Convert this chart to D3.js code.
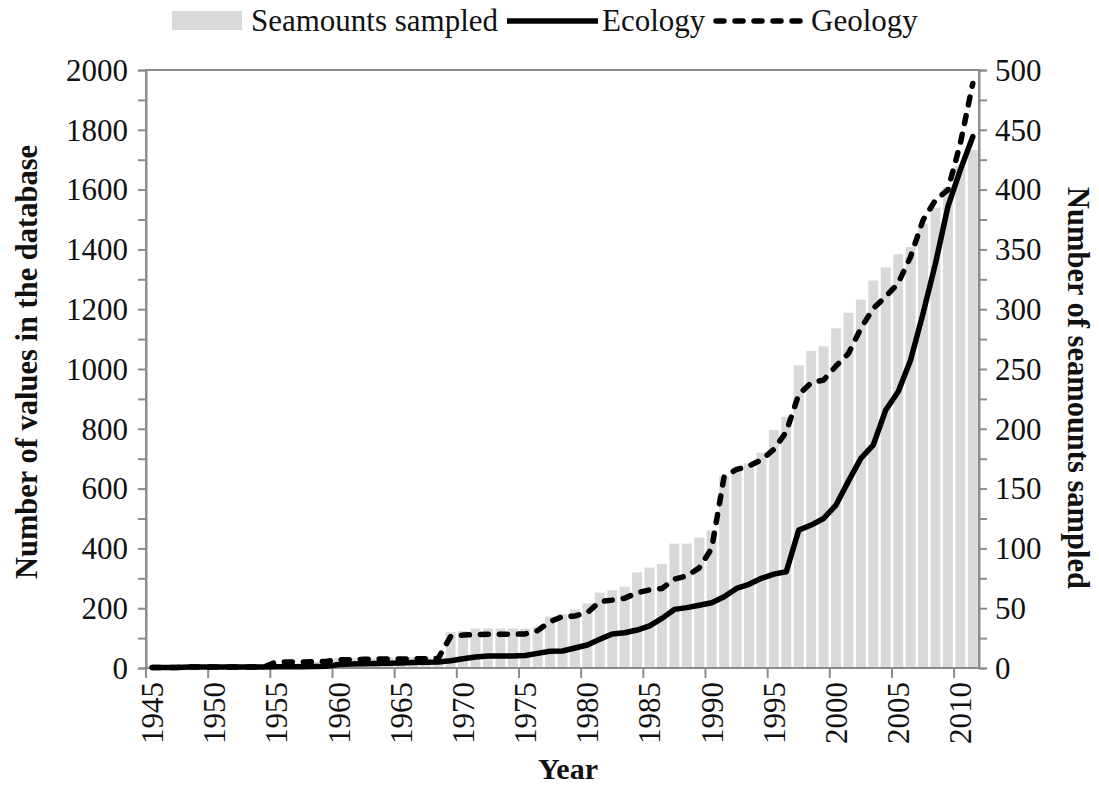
<!DOCTYPE html>
<html>
<head>
<meta charset="utf-8">
<script src="https://cdn.jsdelivr.net/npm/d3@7"></script>
<style>
  html, body { margin: 0; padding: 0; background: #fff; }
  svg { display: block; }
  text { font-family: "Liberation Serif", "Times New Roman", serif; fill: #111; }
</style>
</head>
<body>
<svg id="chart" width="1099" height="788"></svg>
<script>
const years = [1945,1946,1947,1948,1949,1950,1951,1952,1953,1954,
  1955,1956,1957,1958,1959,1960,1961,1962,1963,1964,
  1965,1966,1967,1968,1969,1970,1971,1972,1973,1974,
  1975,1976,1977,1978,1979,1980,1981,1982,1983,1984,
  1985,1986,1987,1988,1989,1990,1991,1992,1993,1994,
  1995,1996,1997,1998,1999,2000,2001,2002,2003,2004,
  2005,2006,2007,2008,2009,2010,2011];

const seamountsSampled = [1,1,1,1,1,1,1,1,1,2,
  3,4,4,5,6,8,8,8,8,9,
  9,9,9,10,30,31,33,33,33,33,
  33,34,43,45,49,54,63,65,68,80,
  84,87,104,104,109,115,160,167,171,180,
  199,210,253,265,269,284,297,308,324,335,
  346,352,371,385,402,420,433];

const ecology = [2,2,2,3,3,3,3,3,3,3,
  4,4,4,5,6,12,13,14,15,16,
  17,18,19,20,24,31,37,40,40,40,
  42,49,56,57,67,77,96,114,118,127,
  141,166,196,202,210,218,238,266,280,300,
  314,322,461,478,500,545,625,701,746,863,
  924,1030,1186,1353,1543,1666,1777];

const geology = [2,2,2,3,3,3,3,3,3,4,
  20,20,20,21,22,28,28,29,30,30,
  30,31,31,32,105,110,112,113,113,113,
  114,125,155,172,174,185,222,227,233,252,
  261,266,297,308,335,400,640,664,676,696,
  731,790,915,954,963,1010,1052,1136,1203,1242,
  1287,1376,1498,1565,1599,1755,1955];

const leftTicks = [0,200,400,600,800,1000,1200,1400,1600,1800,2000];
const rightTicks = [0,50,100,150,200,250,300,350,400,450,500];
const yearLabels = [1945,1950,1955,1960,1965,1970,1975,1980,1985,1990,1995,2000,2005,2010];

const legendLabels = ["Seamounts sampled", "Ecology", "Geology"];

const svg = d3.select("#chart");
const L = 146, R = 979, T = 70, B = 668;
const axisColor = "#8c8c8c";
const barColor = "#d9d9d9";
const tickFont = 31;

const x = d3.scaleBand().domain(years).range([L, R]).paddingInner(0.2).paddingOuter(0.1);
const yL = d3.scaleLinear().domain([0, 2000]).range([B, T]);
const yR = d3.scaleLinear().domain([0, 500]).range([B, T]);
const cx = d => x(d) + x.bandwidth() / 2;
const edge = d => cx(d) - x.step() / 2;

// bars
svg.append("g").selectAll("rect").data(years).join("rect")
  .attr("x", d => x(d))
  .attr("width", x.bandwidth())
  .attr("y", (d, i) => yR(seamountsSampled[i]))
  .attr("height", (d, i) => B - yR(seamountsSampled[i]))
  .attr("fill", barColor);

// frame
svg.append("rect").attr("x", L).attr("y", T).attr("width", R - L).attr("height", B - T)
  .attr("fill", "none").attr("stroke", axisColor).attr("stroke-width", 2);

// left axis
const minorL = d3.range(0, 2001, 100);
const gL = svg.append("g").attr("transform", `translate(${L},0)`)
  .call(d3.axisLeft(yL).tickValues(minorL).tickSize(8).tickFormat(""));
gL.select(".domain").attr("stroke", axisColor).attr("stroke-width", 2);
gL.selectAll(".tick line").attr("stroke", axisColor).attr("stroke-width", 2);
svg.append("g").selectAll("text").data(leftTicks).join("text")
  .attr("x", 128).attr("y", d => yL(d)).attr("dy", "0.35em")
  .attr("text-anchor", "end").attr("font-size", tickFont).text(d => d);

// right axis
const minorR = d3.range(0, 501, 25);
const gR = svg.append("g").attr("transform", `translate(${R},0)`)
  .call(d3.axisRight(yR).tickValues(minorR).tickSize(8).tickFormat(""));
gR.select(".domain").attr("stroke", axisColor).attr("stroke-width", 2);
gR.selectAll(".tick line").attr("stroke", axisColor).attr("stroke-width", 2);
svg.append("g").selectAll("text").data(rightTicks).join("text")
  .attr("x", 995).attr("y", d => yR(d)).attr("dy", "0.35em")
  .attr("text-anchor", "start").attr("font-size", tickFont).text(d => d);

// x axis ticks and labels
svg.append("g").selectAll("line").data(yearLabels).join("line")
  .attr("x1", d => edge(d)).attr("x2", d => edge(d))
  .attr("y1", B).attr("y2", B + 10)
  .attr("stroke", axisColor).attr("stroke-width", 2);
svg.append("g").selectAll("text").data(yearLabels).join("text")
  .attr("transform", d => `translate(${cx(d)},${B + 14}) rotate(-90)`)
  .attr("text-anchor", "end").attr("dy", "0.35em")
  .attr("font-size", tickFont).text(d => d);

// lines
const lineGen = vals => d3.line().x((d, i) => cx(years[i])).y(d => yL(d))(vals);
svg.append("path").attr("d", lineGen(ecology))
  .attr("fill", "none").attr("stroke", "#000").attr("stroke-width", 5.5)
  .attr("stroke-linejoin", "round").attr("stroke-linecap", "round");
svg.append("path").attr("d", lineGen(geology))
  .attr("fill", "none").attr("stroke", "#000").attr("stroke-width", 5.5)
  .attr("stroke-dasharray", "8,11").attr("stroke-linecap", "round")
  .attr("stroke-linejoin", "round");

// axis titles
svg.append("text").attr("x", 568).attr("y", 779).attr("text-anchor", "middle")
  .attr("font-size", 30).attr("font-weight", "bold").text("Year");
svg.append("text").attr("transform", "translate(37,362) rotate(-90)")
  .attr("text-anchor", "middle").attr("font-size", 30.5).attr("font-weight", "bold")
  .text("Number of values in the database");
svg.append("text").attr("transform", "translate(1068,388) rotate(90)")
  .attr("text-anchor", "middle").attr("font-size", 30.5).attr("font-weight", "bold")
  .text("Number of seamounts sampled");

// legend
const lg = svg.append("g");
lg.append("rect").attr("x", 172).attr("y", 11).attr("width", 70).attr("height", 19).attr("fill", barColor);
lg.append("text").attr("x", 251).attr("y", 31).attr("font-size", 31).text(legendLabels[0]);
lg.append("line").attr("x1", 507).attr("x2", 598).attr("y1", 21).attr("y2", 21)
  .attr("stroke", "#000").attr("stroke-width", 5.5);
lg.append("text").attr("x", 602).attr("y", 31).attr("font-size", 31).text(legendLabels[1]);
lg.append("line").attr("x1", 716).attr("x2", 806).attr("y1", 21).attr("y2", 21)
  .attr("stroke", "#000").attr("stroke-width", 5.5).attr("stroke-dasharray", "8,11")
  .attr("stroke-linecap", "round");
lg.append("text").attr("x", 811).attr("y", 31).attr("font-size", 31).text(legendLabels[2]);
</script>
</body>
</html>
